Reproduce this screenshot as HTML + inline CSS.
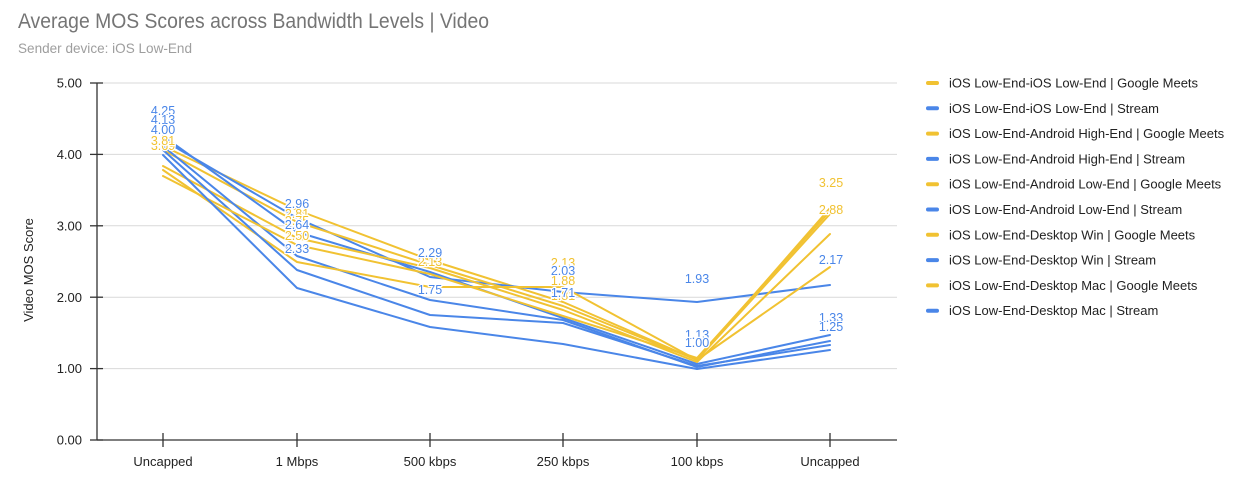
<!DOCTYPE html>
<html><head><meta charset="utf-8"><style>
html,body{margin:0;padding:0;background:#fff;}
svg{display:block;font-family:"Liberation Sans",Arial,sans-serif;}
.lbl{font-size:12.5px;text-anchor:middle;stroke:#fff;stroke-width:2.5px;paint-order:stroke;stroke-linejoin:round;}
.y{fill:#f1c232;}
.b{fill:#4a86e8;}
.tick{font-size:13px;fill:#222;}
.leg{font-size:13px;fill:#222;}
</style></head><body>
<svg width="1258" height="477" viewBox="0 0 1258 477" xmlns="http://www.w3.org/2000/svg">
<rect width="1258" height="477" fill="#fff"/>
<text x="18" y="28" font-size="21" fill="#757575" textLength="471" lengthAdjust="spacingAndGlyphs">Average MOS Scores across Bandwidth Levels | Video</text>
<text x="18" y="53" font-size="14" fill="#9e9e9e" textLength="174" lengthAdjust="spacingAndGlyphs">Sender device: iOS Low-End</text>

<!-- gridlines -->
<g stroke="#d9d9d9" stroke-width="1">
<line x1="97" y1="83" x2="897" y2="83"/>
<line x1="97" y1="154.4" x2="897" y2="154.4"/>
<line x1="97" y1="225.8" x2="897" y2="225.8"/>
<line x1="97" y1="297.2" x2="897" y2="297.2"/>
<line x1="97" y1="368.6" x2="897" y2="368.6"/>
</g>
<!-- axes -->
<g stroke="#333" stroke-width="1.3">
<line x1="97" y1="83" x2="97" y2="440"/>
<line x1="97" y1="440" x2="897" y2="440"/>
<line x1="90" y1="83" x2="103" y2="83"/>
<line x1="90" y1="154.4" x2="103" y2="154.4"/>
<line x1="90" y1="225.8" x2="103" y2="225.8"/>
<line x1="90" y1="297.2" x2="103" y2="297.2"/>
<line x1="90" y1="368.6" x2="103" y2="368.6"/>
<line x1="90" y1="440" x2="103" y2="440"/>
<line x1="163" y1="433" x2="163" y2="447"/>
<line x1="297" y1="433" x2="297" y2="447"/>
<line x1="430" y1="433" x2="430" y2="447"/>
<line x1="563" y1="433" x2="563" y2="447"/>
<line x1="697" y1="433" x2="697" y2="447"/>
<line x1="830" y1="433" x2="830" y2="447"/>
</g>
<g class="tick" text-anchor="end">
<text x="82" y="87.5">5.00</text>
<text x="82" y="159">4.00</text>
<text x="82" y="230.5">3.00</text>
<text x="82" y="302">2.00</text>
<text x="82" y="373">1.00</text>
<text x="82" y="444.5">0.00</text>
</g>
<g class="tick" text-anchor="middle">
<text x="163" y="466">Uncapped</text>
<text x="297" y="466">1 Mbps</text>
<text x="430" y="466">500 kbps</text>
<text x="563" y="466">250 kbps</text>
<text x="697" y="466">100 kbps</text>
<text x="830" y="466">Uncapped</text>
</g>
<text transform="translate(33,270) rotate(-90)" text-anchor="middle" font-size="13" fill="#222">Video MOS Score</text>

<!-- series -->
<g fill="none" stroke-width="2" stroke-linejoin="round" stroke-linecap="round">
<polyline stroke="#f1c232" points="163,146 297,210 430,260 563,302 697,360 830,208"/>
<polyline stroke="#4a86e8" points="163,140 297,218 430,277 563,292 697,302 830,285"/>
<polyline stroke="#f1c232" points="163,150 297,222 430,265 563,306 697,360 830,214"/>
<polyline stroke="#4a86e8" points="163,136 297,232 430,272 563,318 697,364 830,335"/>
<polyline stroke="#f1c232" points="163,166 297,238 430,268 563,310 697,362 830,234"/>
<polyline stroke="#4a86e8" points="163,146 297,256 430,300 563,320 697,367 830,341"/>
<polyline stroke="#f1c232" points="163,170 297,262 430,287 563,287 697,360 830,267"/>
<polyline stroke="#4a86e8" points="163,150 297,270 430,315 563,323 697,366 830,345"/>
<polyline stroke="#f1c232" points="163,176 297,245 430,274 563,316 697,358 830,211"/>
<polyline stroke="#4a86e8" points="163,155 297,288 430,327 563,344 697,369 830,350"/>
</g>

<!-- data labels -->
<g>
<text class="lbl b" x="163" y="115">4.25</text>
<text class="lbl b" x="163" y="124">4.13</text>
<text class="lbl b" x="163" y="134">4.00</text>
<text class="lbl y" x="163" y="150">3.69</text>
<text class="lbl y" x="163" y="145">3.81</text>

<text class="lbl b" x="297" y="208">2.96</text>
<text class="lbl y" x="297" y="218">2.81</text>
<text class="lbl y" x="297" y="225">2.75</text>
<text class="lbl b" x="297" y="229">2.64</text>
<text class="lbl y" x="297" y="240">2.50</text>
<text class="lbl b" x="297" y="253">2.33</text>

<text class="lbl y" x="430" y="266">2.13</text>
<text class="lbl b" x="430" y="257">2.29</text>
<text class="lbl b" x="430" y="294">1.75</text>

<text class="lbl y" x="563" y="267">2.13</text>
<text class="lbl b" x="563" y="275">2.03</text>
<text class="lbl y" x="563" y="285">1.88</text>
<text class="lbl y" x="563" y="300">1.81</text>
<text class="lbl b" x="563" y="297">1.71</text>

<text class="lbl b" x="697" y="283">1.93</text>
<text class="lbl b" x="697" y="339">1.13</text>
<text class="lbl b" x="697" y="347">1.00</text>

<text class="lbl y" x="831" y="187">3.25</text>
<text class="lbl y" x="831" y="214">2.88</text>
<text class="lbl b" x="831" y="264">2.17</text>
<text class="lbl b" x="831" y="322">1.33</text>
<text class="lbl b" x="831" y="331">1.25</text>
</g>

<!-- legend -->
<g stroke-width="4" stroke-linecap="round">
<line x1="928" y1="83" x2="937" y2="83" stroke="#f1c232"/>
<line x1="928" y1="108.3" x2="937" y2="108.3" stroke="#4a86e8"/>
<line x1="928" y1="133.6" x2="937" y2="133.6" stroke="#f1c232"/>
<line x1="928" y1="158.9" x2="937" y2="158.9" stroke="#4a86e8"/>
<line x1="928" y1="184.2" x2="937" y2="184.2" stroke="#f1c232"/>
<line x1="928" y1="209.5" x2="937" y2="209.5" stroke="#4a86e8"/>
<line x1="928" y1="234.8" x2="937" y2="234.8" stroke="#f1c232"/>
<line x1="928" y1="260.1" x2="937" y2="260.1" stroke="#4a86e8"/>
<line x1="928" y1="285.4" x2="937" y2="285.4" stroke="#f1c232"/>
<line x1="928" y1="310.7" x2="937" y2="310.7" stroke="#4a86e8"/>
</g>
<g class="leg">
<text x="949" y="87.5">iOS Low-End-iOS Low-End | Google Meets</text>
<text x="949" y="112.8">iOS Low-End-iOS Low-End | Stream</text>
<text x="949" y="138.1">iOS Low-End-Android High-End | Google Meets</text>
<text x="949" y="163.4">iOS Low-End-Android High-End | Stream</text>
<text x="949" y="188.7">iOS Low-End-Android Low-End | Google Meets</text>
<text x="949" y="214">iOS Low-End-Android Low-End | Stream</text>
<text x="949" y="239.3">iOS Low-End-Desktop Win | Google Meets</text>
<text x="949" y="264.6">iOS Low-End-Desktop Win | Stream</text>
<text x="949" y="289.9">iOS Low-End-Desktop Mac | Google Meets</text>
<text x="949" y="315.2">iOS Low-End-Desktop Mac | Stream</text>
</g>
</svg>
</body></html>
